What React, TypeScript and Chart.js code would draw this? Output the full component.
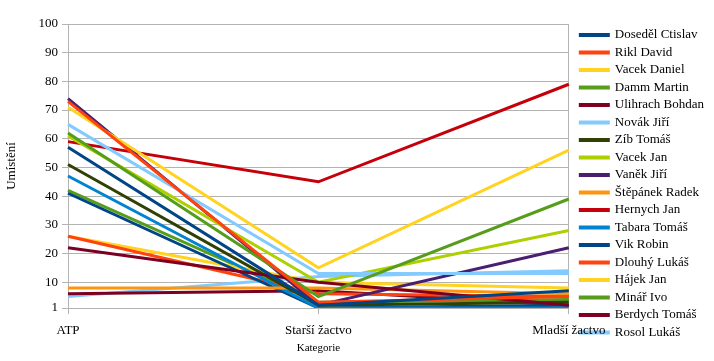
import React, { useEffect, useRef } from "react";
import { Chart, registerables } from "chart.js";

Chart.register(...registerables);

const categories = ["ATP", "Starší žactvo", "Mladší žactvo"];

const players = [
  "Doseděl Ctislav",
  "Rikl David",
  "Vacek Daniel",
  "Damm Martin",
  "Ulihrach Bohdan",
  "Novák Jiří",
  "Zíb Tomáš",
  "Vacek Jan",
  "Vaněk Jiří",
  "Štěpánek Radek",
  "Hernych Jan",
  "Tabara Tomáš",
  "Vik Robin",
  "Dlouhý Lukáš",
  "Hájek Jan",
  "Minář Ivo",
  "Berdych Tomáš",
  "Rosol Lukáš",
];

// values per category, in the order of players
const atpValues = [57, 73, 71, 62, 22, 65, 51, 61, 74, 8, 59, 47, 41, 26, 26, 42, 6, 5];
const starsiValues = [2, 3, 15, 5, 10, 13, 2, 10, 2, 8, 45, 1, 1, 6, 10, 3, 7, 12];
const mladsiValues = [7, 5, 56, 39, 2, 13, 3, 28, 22, 6, 79, 1, 2, 5, 8, 4, 2, 14];

const yTicks = [1, 10, 20, 30, 40, 50, 60, 70, 80, 90, 100];

const palette = [
  "#004586",
  "#ff420e",
  "#ffd320",
  "#579d1c",
  "#7e0021",
  "#83caff",
  "#314004",
  "#aecf00",
  "#4b1f6f",
  "#ff950e",
  "#c5000b",
  "#0084d1",
];

const FONT = "'Liberation Serif', 'Times New Roman', serif";

const LEGEND_GAP = 7;

// leaves a small gap between the plot area and the legend
const legendGapPlugin = {
  id: "legendGap",
  beforeLayout(chart: any) {
    const lg = chart.legend;
    if (lg && !lg._gapPatched) {
      const orig = lg.fit;
      lg.fit = function (this: any) {
        orig.call(this);
        this.width += LEGEND_GAP;
      };
      lg._gapPatched = true;
    }
  },
  afterLayout(chart: any) {
    const lg = chart.legend;
    if (lg) {
      lg.left += LEGEND_GAP;
    }
  },
};

export default function App() {
  const ref = useRef<HTMLCanvasElement | null>(null);

  useEffect(() => {
    document.body.style.margin = "0";
    const canvas = ref.current;
    if (!canvas) return;
    let chart: Chart | null = null;
    let cancelled = false;

    const build = () => {
      if (cancelled) return;
      const datasets = players.map((name, i) => {
        const c = palette[i % palette.length];
        return {
          label: name,
          data: [atpValues[i], starsiValues[i], mladsiValues[i]],
          borderColor: c,
          backgroundColor: c,
          borderWidth: 3,
          pointRadius: 0,
          pointHoverRadius: 0,
          tension: 0,
          fill: false,
        };
      });
      chart = new Chart(canvas, {
        type: "line",
        data: { labels: categories, datasets },
        plugins: [legendGapPlugin],
        options: {
          animation: false,
          responsive: false,
          maintainAspectRatio: false,
          layout: { padding: { top: 24, right: 0, bottom: 0, left: 0 } },
          plugins: {
            tooltip: { enabled: false },
            legend: {
              position: "right",
              align: "start",
              labels: {
                boxWidth: 28,
                boxHeight: 1,
                padding: 4.5,
                color: "#000",
                font: { family: FONT, size: 13 },
              },
            },
          },
          scales: {
            x: {
              offset: false,
              afterFit: (scale: any) => {
                scale.height = 53;
              },
              grid: {
                color: (ctx: any) => (ctx.index === 1 ? "rgba(0,0,0,0)" : "#b3b3b3"),
                tickColor: "#b3b3b3",
                tickLength: 6,
                drawTicks: true,
              },
              border: { color: "#b3b3b3" },
              ticks: {
                color: "#000",
                font: { family: FONT, size: 13 },
                padding: 9,
                maxRotation: 0,
                autoSkip: false,
              },
              title: {
                display: true,
                text: "Kategorie",
                color: "#000",
                font: { family: FONT, size: 11 },
                padding: { top: 0, bottom: 6 },
              },
            },
            y: {
              min: 1,
              max: 100,
              afterBuildTicks: (scale: any) => {
                scale.ticks = yTicks.map((v) => ({ value: v }));
              },
              afterFit: (scale: any) => {
                scale.width = 68;
              },
              grid: {
                color: "#b3b3b3",
                tickColor: "#b3b3b3",
                tickLength: 6,
              },
              border: { color: "#b3b3b3" },
              ticks: {
                color: "#000",
                font: { family: FONT, size: 13 },
                padding: 4,
              },
              title: {
                display: true,
                text: "Umístění",
                color: "#000",
                font: { family: FONT, size: 13 },
                padding: { top: 4, bottom: 4 },
              },
            },
          },
        },
      });
    };

    const fonts: any = (document as any).fonts;
    if (fonts && fonts.load) {
      Promise.all([
        fonts.load("13px 'Liberation Serif'"),
        fonts.load("11px 'Liberation Serif'"),
      ])
        .catch(() => undefined)
        .then(build);
    } else {
      build();
    }
    return () => {
      cancelled = true;
      if (chart) chart.destroy();
    };
  }, []);

  return (
    <div style={{ width: 714, height: 361 }}>
      <canvas ref={ref} width={714} height={361} style={{ width: 714, height: 361, display: "block" }} />
    </div>
  );
}
